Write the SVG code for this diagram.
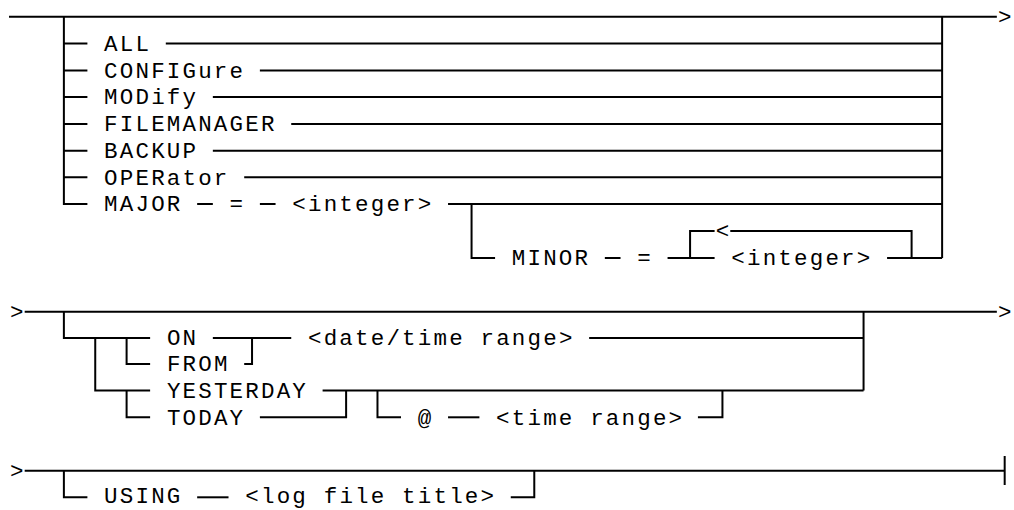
<svg xmlns="http://www.w3.org/2000/svg" width="1014" height="510" viewBox="0 0 1014 510">
<style>
.ln{stroke:#000;stroke-width:2;fill:none;stroke-linecap:butt;stroke-linejoin:miter}
.t{font-family:"Liberation Mono","Courier New",monospace;font-size:22.5px;letter-spacing:2.18px;fill:#000}
</style>
<rect width="1014" height="510" fill="#fff"/>
<g id="connectors">
<!-- section 1 -->
<path class="ln" d="M9 16.8H996.84"/>
<path class="ln" d="M63.88 16.8V204H87.4"/>
<path class="ln" d="M63.88 43.5H87.4M63.88 70.4H87.4M63.88 97H87.4M63.88 124H87.4M63.88 150.7H87.4M63.88 177.3H87.4"/>
<path class="ln" d="M165.8 43.5H942.12M259.88 70.4H942.12M212.84 97H942.12M291.24 124H942.12M212.84 150.7H942.12M244.2 177.3H942.12"/>
<path class="ln" d="M197.16 204H212.84M259.88 204H275.56M448.04 204H942.12"/>
<path class="ln" d="M471.56 204V258H495.08"/>
<path class="ln" d="M604.84 258H620.52M667.56 258H714.6"/>
<path class="ln" d="M690.08 258V231H714.6M730.28 231H911.6V258M887.08 258H942.12"/>
<path class="ln" d="M942.12 16.8V258"/>
<!-- section 2 -->
<path class="ln" d="M24.68 311.7H996.84"/>
<path class="ln" d="M63.88 311.7V338H150.12"/>
<path class="ln" d="M95.24 338V390.5H150.12"/>
<path class="ln" d="M126.6 338V364H150.12"/>
<path class="ln" d="M126.6 390.5V417.3H150.12"/>
<path class="ln" d="M212.84 338H291.24"/>
<path class="ln" d="M244.2 364H252.04V338"/>
<path class="ln" d="M589.16 338H863.56"/>
<path class="ln" d="M863.56 311.7V390.5"/>
<path class="ln" d="M322.6 390.5H863.56"/>
<path class="ln" d="M259.88 417.3H346.12V390.5"/>
<path class="ln" d="M377.48 390.5V417.3H401"/>
<path class="ln" d="M448.04 417.3H479.4"/>
<path class="ln" d="M697.92 417.3H722.44V390.5"/>
<!-- section 3 -->
<path class="ln" d="M24.68 470.7H1004.68"/>
<path class="ln" d="M1004.68 456V485"/>
<path class="ln" d="M63.88 470.7V497.3H87.4"/>
<path class="ln" d="M197.16 497.3H228.52"/>
<path class="ln" d="M510.76 497.3H534.28V470.7"/>
</g>
<g id="arrows">
<text class="t" x="997.9" y="24.2">&gt;</text>
<text class="t" x="10" y="319.1">&gt;</text>
<text class="t" x="997.9" y="319.1">&gt;</text>
<text class="t" x="10" y="478.1">&gt;</text>
<text class="t" x="715.7" y="238.4">&lt;</text>
</g>
<g id="n-all"><text class="t" x="104.1" y="50.9">ALL</text></g>
<g id="n-configure"><text class="t" x="104.1" y="77.8">CONFIGure</text></g>
<g id="n-modify"><text class="t" x="104.1" y="104.4">MODify</text></g>
<g id="n-filemanager"><text class="t" x="104.1" y="131.4">FILEMANAGER</text></g>
<g id="n-backup"><text class="t" x="104.1" y="158.1">BACKUP</text></g>
<g id="n-operator"><text class="t" x="104.1" y="184.7">OPERator</text></g>
<g id="n-major"><text class="t" x="104.1" y="211.4">MAJOR</text></g>
<g id="n-major-eq"><text class="t" x="229.6" y="211.4">=</text></g>
<g id="n-major-int"><text class="t" x="292.3" y="211.4">&lt;integer&gt;</text></g>
<g id="n-minor"><text class="t" x="511.8" y="265.4">MINOR</text></g>
<g id="n-minor-eq"><text class="t" x="637.3" y="265.4">=</text></g>
<g id="n-minor-int"><text class="t" x="731.3" y="265.4">&lt;integer&gt;</text></g>
<g id="n-on"><text class="t" x="166.9" y="345.4">ON</text></g>
<g id="n-from"><text class="t" x="166.9" y="371.4">FROM</text></g>
<g id="n-daterange"><text class="t" x="308" y="345.4">&lt;date/time range&gt;</text></g>
<g id="n-yesterday"><text class="t" x="166.9" y="397.9">YESTERDAY</text></g>
<g id="n-today"><text class="t" x="166.9" y="424.7">TODAY</text></g>
<g id="n-at"><text class="t" x="417.7" y="424.7">@</text></g>
<g id="n-timerange"><text class="t" x="496.1" y="424.7">&lt;time range&gt;</text></g>
<g id="n-using"><text class="t" x="104.1" y="503">USING</text></g>
<g id="n-logfile"><text class="t" x="245.3" y="503">&lt;log file title&gt;</text></g>
</svg>
